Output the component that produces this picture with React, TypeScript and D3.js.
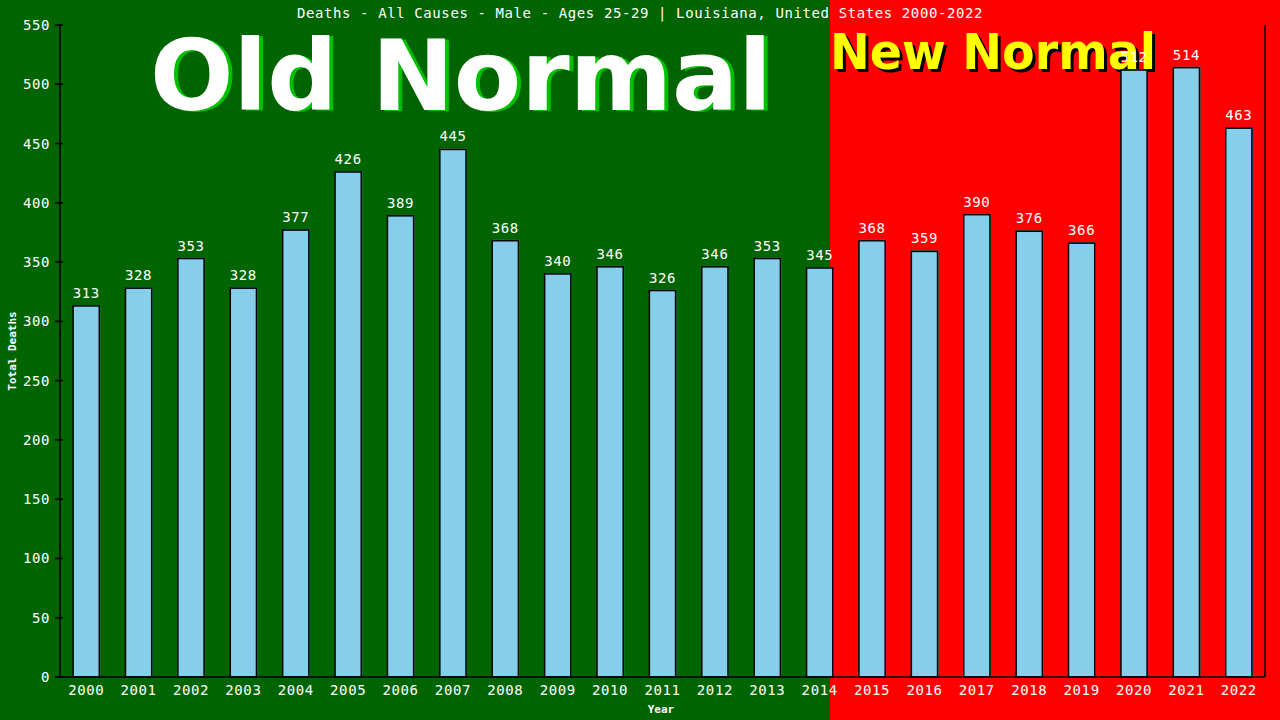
import React from "react";
import * as d3 from "d3";

const years = ["2000", "2001", "2002", "2003", "2004", "2005", "2006", "2007", "2008", "2009", "2010", "2011",
    "2012", "2013", "2014", "2015", "2016", "2017", "2018", "2019", "2020", "2021", "2022"];
const deaths = [313, 328, 353, 328, 377, 426, 389, 445, 368, 340, 346, 326, 346, 353, 345, 368, 359, 390, 376, 366, 512, 514, 463];
const yTicks = [0, 50, 100, 150, 200, 250, 300, 350, 400, 450, 500, 550];
const title = "Deaths - All Causes - Male - Ages 25-29 | Louisiana, United States 2000-2022";

const W = 1280, H = 720;
const left = 60, right = 1265, top = 25, bottom = 677;
const splitX = 830;
const mono = "'DejaVu Sans Mono', monospace";

const App = () => {
    const x = d3.scaleBand<string>().domain(years).range([left, right]).paddingInner(0.5).paddingOuter(0.25);
    const y = d3.scaleLinear().domain([0, 550]).range([bottom, top]);

    return (
        <svg width={W} height={H} style={{position: "absolute", left: 0, top: 0, display: "block"}}>
            <rect x={0} y={0} width={splitX} height={H} fill="#006400"/>
            <rect x={splitX} y={0} width={W - splitX} height={H} fill="#ff0000"/>

            {/* big labels behind the bars */}
            <g fontFamily="'DejaVu Sans', sans-serif" fontWeight="bold" lengthAdjust="spacingAndGlyphs">
                <text x={154} y={111} fontSize={98} fill="#00c000" textLength={622} lengthAdjust="spacingAndGlyphs">Old Normal</text>
                <text x={150} y={110} fontSize={98} fill="#ffffff" textLength={622} lengthAdjust="spacingAndGlyphs">Old Normal</text>
                <text x={833} y={72} fontSize={50} fill="#000000" textLength={326} lengthAdjust="spacingAndGlyphs">New Normal</text>
                <text x={830} y={69} fontSize={50} fill="#ffff00" textLength={326} lengthAdjust="spacingAndGlyphs">New Normal</text>
            </g>

            <text x={640} y={18} textAnchor="middle" fill="#fff" fontFamily={mono} fontSize={14} letterSpacing={0.6}>{title}</text>

            {/* bars */}
            {deaths.map((d, i) => {
                const bx = x(years[i])!
                const bw = x.bandwidth()
                return (
                    <g key={years[i]}>
                        <rect x={bx + 1} y={y(d) - 1} width={bw} height={bottom - y(d)} fill="#4682b4"/>
                        <rect x={bx} y={y(d)} width={bw} height={bottom - y(d)} fill="#87ceeb" stroke="#000" strokeWidth={1.5}/>
                        <text x={bx + bw / 2} y={y(d) - 8} textAnchor="middle" fill="#fff" fontFamily={mono} fontSize={14} letterSpacing={0.6}>{d}</text>
                    </g>
                )
            })}

            {/* axes */}
            <line x1={left} x2={left} y1={top} y2={bottom} stroke="#000" strokeWidth={1.5}/>
            <line x1={right} x2={right} y1={top} y2={bottom} stroke="#000" strokeWidth={1.5}/>
            <line x1={55} x2={right} y1={bottom} y2={bottom} stroke="#000" strokeWidth={1.5}/>
            {yTicks.map(t => (
                <g key={t}>
                    <line x1={55} x2={63} y1={y(t)} y2={y(t)} stroke="#000" strokeWidth={1.5}/>
                    <text x={50} y={y(t) + 5} textAnchor="end" fill="#fff" fontFamily={mono} fontSize={14} letterSpacing={0.6}>{t}</text>
                </g>
            ))}
            {years.map(yr => (
                <text key={yr} x={x(yr)! + x.bandwidth() / 2} y={695} textAnchor="middle" fill="#fff" fontFamily={mono} fontSize={14} letterSpacing={0.6}>{yr}</text>
            ))}

            <text x={661} y={713} textAnchor="middle" fill="#fff" fontFamily={mono} fontWeight="bold" fontSize={11}>Year</text>
            <text transform={`translate(16,${(top + bottom) / 2}) rotate(-90)`} textAnchor="middle" fill="#fff" fontFamily={mono} fontWeight="bold" fontSize={11}>Total Deaths</text>
        </svg>
    );
};

export default App;
